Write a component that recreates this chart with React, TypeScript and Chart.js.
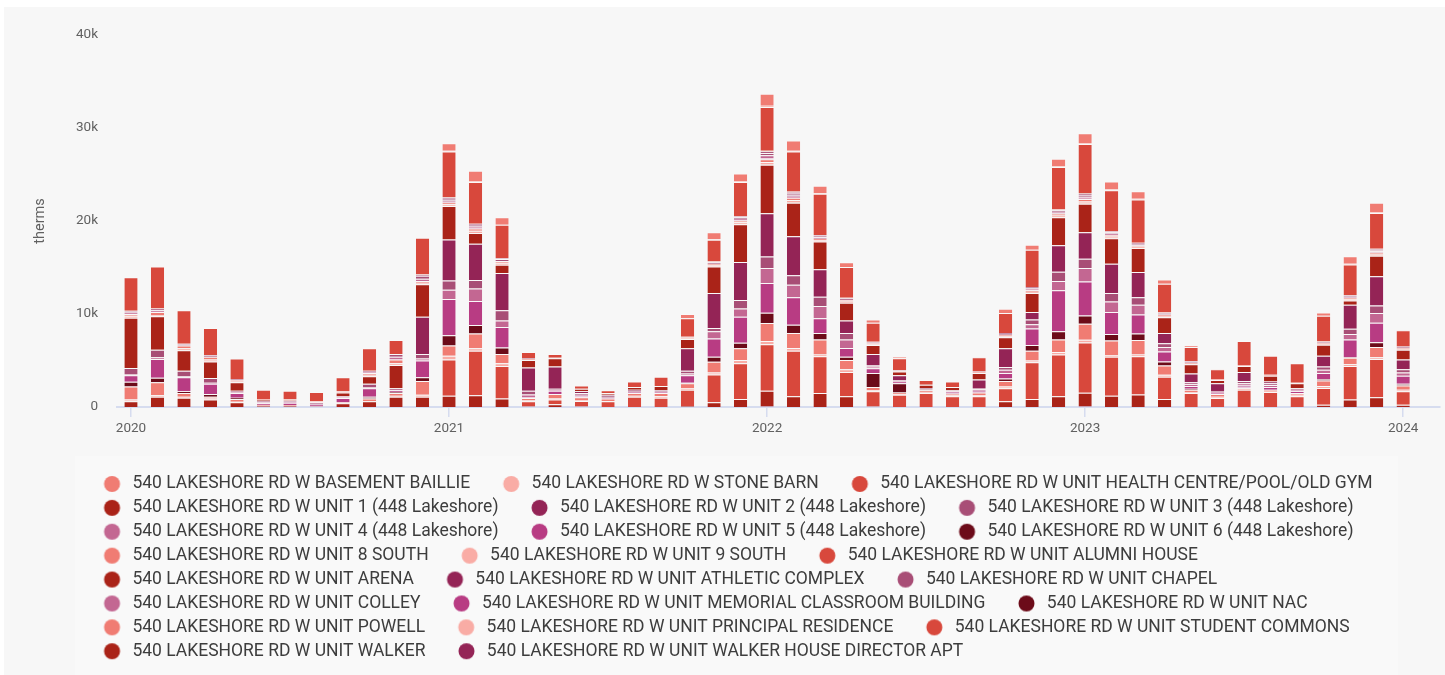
import React, { useEffect, useRef } from 'react';
import { Chart, registerables } from 'chart.js';

Chart.register(...registerables);

// Monthly periods (Jan 2020 – Jan 2024)
const MONTHS = [
  '2020-01', '2020-02', '2020-03', '2020-04', '2020-05', '2020-06', '2020-07', '2020-08', '2020-09', '2020-10', '2020-11', '2020-12',
  '2021-01', '2021-02', '2021-03', '2021-04', '2021-05', '2021-06', '2021-07', '2021-08', '2021-09', '2021-10', '2021-11', '2021-12',
  '2022-01', '2022-02', '2022-03', '2022-04', '2022-05', '2022-06', '2022-07', '2022-08', '2022-09', '2022-10', '2022-11', '2022-12',
  '2023-01', '2023-02', '2023-03', '2023-04', '2023-05', '2023-06', '2023-07', '2023-08', '2023-09', '2023-10', '2023-11', '2023-12',
  '2024-01',
];

const Y_TICK_LABELS = ['0', '10k', '20k', '30k', '40k'];
const Y_AXIS_TITLE = 'therms';

// Series values (therms), one array per building, in legend order
const BASEMENT_BAILLIE = [
  0, 0, 0, 0, 0, 0, 0, 0, 0, 0, 0, 0,
  800, 1100, 800, 0, 0, 0, 0, 0, 0, 450, 750, 800,
  1300, 1100, 800, 500, 350, 150, 0, 0, 50, 450, 550, 800,
  1050, 850, 800, 450, 150, 50, 0, 0, 0, 350, 800, 1000,
  50,
];
const STONE_BARN = [
  0, 0, 0, 0, 0, 0, 0, 0, 0, 0, 0, 0,
  100, 100, 0, 0, 0, 0, 0, 0, 0, 0, 80, 100,
  120, 100, 80, 0, 0, 0, 0, 0, 0, 0, 0, 80,
  100, 80, 80, 0, 0, 0, 0, 0, 0, 0, 80, 100,
  0,
];
const HEALTH_CENTRE = [
  3600, 4500, 3600, 2900, 2200, 1000, 950, 1000, 1500, 2400, 1500, 3950,
  4900, 4500, 3600, 650, 400, 350, 300, 600, 1000, 2000, 2320, 3700,
  4730, 4300, 4420, 3300, 2050, 1300, 500, 600, 1550, 2150, 4000, 4570,
  5300, 4420, 4670, 3100, 1500, 1050, 2600, 2050, 2100, 2750, 3320, 3850,
  1750,
];
const UNIT_1 = [
  0, 0, 0, 0, 0, 0, 0, 0, 0, 0, 0, 0,
  60, 0, 0, 0, 0, 0, 0, 0, 0, 0, 0, 0,
  80, 60, 0, 0, 0, 0, 0, 0, 0, 0, 0, 0,
  80, 0, 0, 0, 0, 0, 0, 0, 0, 0, 0, 60,
  0,
];
const UNIT_2 = [
  0, 0, 0, 0, 0, 0, 0, 0, 0, 0, 0, 150,
  100, 100, 100, 0, 0, 0, 0, 0, 0, 0, 100, 100,
  150, 150, 100, 100, 50, 0, 0, 0, 0, 100, 100, 100,
  100, 100, 100, 100, 100, 0, 0, 0, 0, 50, 50, 100,
  50,
];
const UNIT_3 = [
  200, 200, 200, 200, 100, 0, 0, 0, 0, 150, 300, 300,
  200, 200, 200, 100, 0, 0, 0, 0, 0, 50, 150, 150,
  250, 200, 150, 150, 100, 50, 0, 0, 50, 100, 100, 150,
  200, 150, 100, 100, 100, 0, 0, 0, 0, 100, 100, 100,
  100,
];
const UNIT_4 = [
  150, 200, 0, 0, 0, 0, 0, 0, 0, 100, 300, 250,
  200, 200, 0, 0, 0, 0, 0, 0, 0, 0, 0, 150,
  300, 250, 150, 0, 0, 0, 0, 0, 0, 0, 150, 150,
  200, 150, 100, 0, 0, 0, 0, 0, 0, 0, 100, 150,
  0,
];
const UNIT_5 = [
  0, 0, 0, 0, 0, 0, 0, 0, 0, 0, 0, 0,
  0, 0, 0, 0, 0, 0, 0, 0, 0, 0, 0, 50,
  60, 0, 0, 0, 0, 0, 0, 0, 0, 0, 0, 0,
  50, 0, 0, 0, 0, 0, 0, 0, 0, 0, 0, 0,
  0,
];
const UNIT_6 = [
  0, 0, 0, 0, 0, 0, 0, 0, 0, 0, 0, 0,
  0, 0, 0, 0, 0, 0, 0, 0, 0, 0, 0, 0,
  50, 0, 0, 0, 0, 0, 0, 0, 0, 0, 0, 40,
  0, 0, 0, 0, 0, 0, 0, 0, 0, 0, 0, 0,
  0,
];
const UNIT_8_SOUTH = [
  200, 300, 300, 300, 150, 100, 100, 100, 150, 200, 400, 200,
  200, 250, 200, 100, 50, 0, 0, 0, 0, 100, 150, 200,
  300, 250, 150, 150, 100, 100, 0, 0, 100, 150, 150, 200,
  250, 150, 100, 150, 150, 100, 100, 100, 50, 100, 150, 200,
  100,
];
const UNIT_9_SOUTH = [
  200, 150, 200, 200, 100, 0, 0, 0, 0, 150, 200, 150,
  200, 250, 200, 0, 0, 0, 0, 0, 0, 100, 150, 200,
  250, 250, 150, 150, 100, 0, 0, 0, 0, 100, 150, 200,
  200, 150, 150, 150, 0, 0, 0, 0, 0, 100, 150, 150,
  100,
];
const ALUMNI_HOUSE = [
  0, 0, 0, 0, 0, 0, 0, 0, 0, 0, 0, 0,
  0, 0, 0, 0, 0, 0, 0, 0, 0, 0, 0, 0,
  60, 50, 0, 0, 0, 0, 0, 0, 0, 0, 0, 0,
  60, 40, 0, 0, 0, 0, 0, 0, 0, 0, 0, 0,
  0,
];
const ARENA = [
  5400, 3600, 2200, 1800, 900, 100, 50, 0, 400, 800, 2500, 3500,
  3600, 1150, 900, 800, 900, 250, 200, 300, 450, 1000, 2850, 4050,
  5200, 3600, 3000, 1900, 950, 400, 350, 350, 700, 1200, 2050, 3000,
  3050, 2750, 2600, 1700, 1000, 350, 650, 600, 550, 1200, 450, 2200,
  1050,
];
const ATHLETIC_COMPLEX = [
  0, 0, 0, 0, 0, 0, 0, 0, 0, 0, 0, 4000,
  4400, 3900, 4000, 2500, 2400, 200, 200, 150, 100, 2400, 3750, 4100,
  4650, 4200, 2950, 1350, 1200, 500, 100, 0, 900, 2000, 800, 2850,
  2850, 3150, 2700, 1100, 950, 850, 950, 200, 0, 1150, 2600, 3150,
  1050,
];
const CHAPEL = [
  700, 800, 600, 500, 200, 150, 100, 150, 100, 400, 200, 500,
  1000, 900, 1100, 400, 100, 200, 100, 100, 100, 300, 350, 900,
  1250, 1000, 1000, 700, 150, 150, 0, 50, 150, 300, 500, 1000,
  1000, 900, 800, 400, 200, 100, 250, 200, 150, 350, 550, 800,
  350,
];
const COLLEY = [
  100, 200, 100, 100, 50, 100, 100, 100, 100, 100, 0, 200,
  1000, 1350, 700, 300, 100, 150, 0, 0, 0, 200, 800, 900,
  1600, 1350, 1300, 900, 200, 0, 0, 100, 150, 350, 450, 1000,
  1450, 1150, 1050, 500, 200, 100, 250, 200, 150, 350, 600, 1050,
  350,
];
const MEMORIAL_CLASSROOM = [
  700, 2000, 1500, 1100, 500, 200, 250, 150, 450, 900, 200, 1800,
  3900, 2600, 2200, 100, 350, 100, 100, 100, 100, 800, 1950, 2800,
  3200, 2950, 1600, 950, 500, 200, 50, 200, 200, 600, 1800, 4400,
  3650, 2350, 2050, 1050, 300, 100, 200, 300, 200, 650, 1900, 2100,
  850,
];
const NAC = [
  500, 500, 200, 300, 150, 0, 0, 0, 0, 200, 100, 400,
  1100, 900, 700, 0, 0, 0, 0, 0, 0, 50, 550, 600,
  1100, 900, 700, 350, 1500, 1000, 100, 0, 0, 250, 600, 900,
  900, 700, 700, 450, 100, 0, 0, 0, 0, 150, 50, 500,
  200,
];
const POWELL = [
  1400, 1400, 400, 200, 300, 100, 100, 50, 100, 300, 300, 1500,
  1100, 1600, 1000, 250, 500, 300, 250, 300, 350, 500, 1150, 1250,
  1950, 1600, 1600, 1000, 350, 150, 200, 200, 300, 600, 1050, 1350,
  1700, 1550, 1550, 1000, 250, 300, 100, 100, 200, 600, 700, 1100,
  450,
];
const PRINCIPAL_RESIDENCE = [
  200, 150, 100, 100, 50, 0, 0, 0, 0, 0, 100, 200,
  400, 250, 300, 100, 100, 100, 50, 100, 150, 200, 200, 350,
  350, 300, 200, 300, 100, 100, 100, 100, 100, 200, 200, 250,
  300, 200, 200, 200, 100, 150, 150, 150, 150, 200, 200, 200,
  150,
];
const STUDENT_COMMONS = [
  0, 0, 0, 0, 0, 0, 0, 0, 0, 0, 0, 0,
  3900, 4800, 3500, 550, 500, 600, 600, 1100, 1000, 1750, 3000, 3850,
  5000, 4900, 3950, 2600, 1650, 1300, 1500, 1150, 1150, 1400, 3950, 4500,
  5400, 4200, 4100, 2400, 1500, 950, 1850, 1600, 1150, 1800, 3600, 4100,
  1450,
];
const WALKER = [
  600, 1100, 1000, 800, 500, 100, 100, 50, 400, 600, 1100, 1100,
  1200, 1250, 900, 50, 300, 50, 0, 0, 0, 100, 500, 850,
  1700, 1150, 1500, 1150, 50, 0, 0, 0, 0, 600, 850, 1150,
  1500, 1200, 1350, 850, 0, 0, 0, 0, 0, 250, 800, 1050,
  250,
];
const WALKER_HOUSE_DIRECTOR_APT = [
  0, 0, 0, 0, 0, 0, 0, 0, 0, 0, 0, 0,
  0, 0, 0, 0, 0, 0, 0, 0, 0, 0, 0, 0,
  40, 0, 0, 0, 0, 0, 0, 0, 0, 0, 0, 0,
  40, 0, 0, 0, 0, 0, 0, 0, 0, 0, 0, 0,
  0,
];

const SERIES_NAMES = [
  '540 LAKESHORE RD W BASEMENT BAILLIE',
  '540 LAKESHORE RD W STONE BARN',
  '540 LAKESHORE RD W UNIT HEALTH CENTRE/POOL/OLD GYM',
  '540 LAKESHORE RD W UNIT 1 (448 Lakeshore)',
  '540 LAKESHORE RD W UNIT 2 (448 Lakeshore)',
  '540 LAKESHORE RD W UNIT 3 (448 Lakeshore)',
  '540 LAKESHORE RD W UNIT 4 (448 Lakeshore)',
  '540 LAKESHORE RD W UNIT 5 (448 Lakeshore)',
  '540 LAKESHORE RD W UNIT 6 (448 Lakeshore)',
  '540 LAKESHORE RD W UNIT 8 SOUTH',
  '540 LAKESHORE RD W UNIT 9 SOUTH',
  '540 LAKESHORE RD W UNIT ALUMNI HOUSE',
  '540 LAKESHORE RD W UNIT ARENA',
  '540 LAKESHORE RD W UNIT ATHLETIC COMPLEX',
  '540 LAKESHORE RD W UNIT CHAPEL',
  '540 LAKESHORE RD W UNIT COLLEY',
  '540 LAKESHORE RD W UNIT MEMORIAL CLASSROOM BUILDING',
  '540 LAKESHORE RD W UNIT NAC',
  '540 LAKESHORE RD W UNIT POWELL',
  '540 LAKESHORE RD W UNIT PRINCIPAL RESIDENCE',
  '540 LAKESHORE RD W UNIT STUDENT COMMONS',
  '540 LAKESHORE RD W UNIT WALKER',
  '540 LAKESHORE RD W UNIT WALKER HOUSE DIRECTOR APT',
];

const SERIES_VALUES = [
  BASEMENT_BAILLIE, STONE_BARN, HEALTH_CENTRE, UNIT_1, UNIT_2, UNIT_3, UNIT_4, UNIT_5, UNIT_6,
  UNIT_8_SOUTH, UNIT_9_SOUTH, ALUMNI_HOUSE, ARENA, ATHLETIC_COMPLEX, CHAPEL, COLLEY,
  MEMORIAL_CLASSROOM, NAC, POWELL, PRINCIPAL_RESIDENCE, STUDENT_COMMONS, WALKER, WALKER_HOUSE_DIRECTOR_APT,
];

const PALETTE = ['#f07c73', '#f9aca5', '#d8483c', '#aa2318', '#942456', '#a84e76', '#c36792', '#b83c83', '#6c0b19'];

function makeDot(color: string): HTMLCanvasElement {
  const c = document.createElement('canvas');
  c.width = 46;
  c.height = 18;
  const g = c.getContext('2d')!;
  g.fillStyle = color;
  g.beginPath();
  g.arc(34.5, 9, 8, 0, Math.PI * 2);
  g.fill();
  return c;
}

export default function App() {
  const ref = useRef<HTMLCanvasElement | null>(null);

  useEffect(() => {
    if (!ref.current) return;
    Chart.defaults.font.family = 'Roboto';

    const tickIdx = MONTHS.map((m, i) => (m.endsWith('-01') ? i : -1)).filter((i) => i >= 0);

    const datasets = SERIES_NAMES.map((name, i) => ({
      label: name,
      data: SERIES_VALUES[i].map((v, m) => ({ x: m, y: v })),
      backgroundColor: PALETTE[i % PALETTE.length],
      borderColor: 'rgba(255,255,255,0.28)',
      borderWidth: { top: 1, right: 0, bottom: 0, left: 0 },
      pointStyle: makeDot(PALETTE[i % PALETTE.length]),
      categoryPercentage: 1,
      barPercentage: 0.5,
    })).reverse();

    const chart = new Chart(ref.current, {
      type: 'bar',
      data: { datasets: datasets as any },
      options: {
        responsive: false,
        animation: false,
        layout: { padding: { left: 71, right: 5, top: 35, bottom: 5 } },
        plugins: {
          legend: {
            position: 'bottom',
            align: 'start',
            reverse: true,
            labels: {
              usePointStyle: true,
              pointStyleWidth: 46.25,
              padding: 6.4,
              color: '#3d3d3d',
              font: { size: 17.5, family: 'Roboto' },
            },
          },
          tooltip: { enabled: false },
        },
        scales: {
          x: {
            type: 'linear',
            stacked: true,
            offset: false,
            min: -0.528,
            max: 49.39,
            afterBuildTicks: (s: any) => {
              s.ticks = tickIdx.map((v) => ({ value: v }));
            },
            afterFit: (s: any) => {
              s.height = 61.85;
            },
            ticks: {
              autoSkip: false,
              maxRotation: 0,
              padding: 3.5,
              color: '#616161',
              font: { size: 13.5 },
              callback: (v: any) => MONTHS[v as number].slice(0, 4),
            },
            grid: { offset: false, drawOnChartArea: false, drawTicks: true, tickLength: 10, color: '#d6dcef', lineWidth: 1.5 },
            border: { display: true, color: '#d6dcef', width: 2 },
          },
          y: {
            stacked: true,
            min: 0,
            max: 40000,
            afterFit: (s: any) => {
              s.width = 46;
            },
            ticks: {
              stepSize: 10000,
              padding: 19,
              color: '#616161',
              font: { size: 13.5 },
              callback: (v: any) => Y_TICK_LABELS[Math.round((v as number) / 10000)],
            },
            grid: { display: false, drawTicks: false },
            border: { display: false },
            title: {
              display: true,
              text: Y_AXIS_TITLE,
              color: '#616161',
              font: { size: 14.5 },
              padding: { top: -39, bottom: 0 },
            },
          },
        },
      },
    });
    return () => chart.destroy();
  }, []);

  return (
    <div style={{ position: 'fixed', left: 0, top: 0, width: 1445, height: 675, background: '#ffffff', overflow: 'hidden' }}>
      <div style={{ position: 'absolute', left: 4, top: 7, right: 0, bottom: 0, background: '#f7f7f7' }} />
      <div style={{ position: 'absolute', left: 75, top: 456, width: 1323, bottom: 0, background: '#f9f9f9' }} />
      <canvas
        ref={ref}
        width={1445}
        height={675}
        style={{ position: 'absolute', left: 0, top: 0, width: 1445, height: 675 }}
      />
    </div>
  );
}
